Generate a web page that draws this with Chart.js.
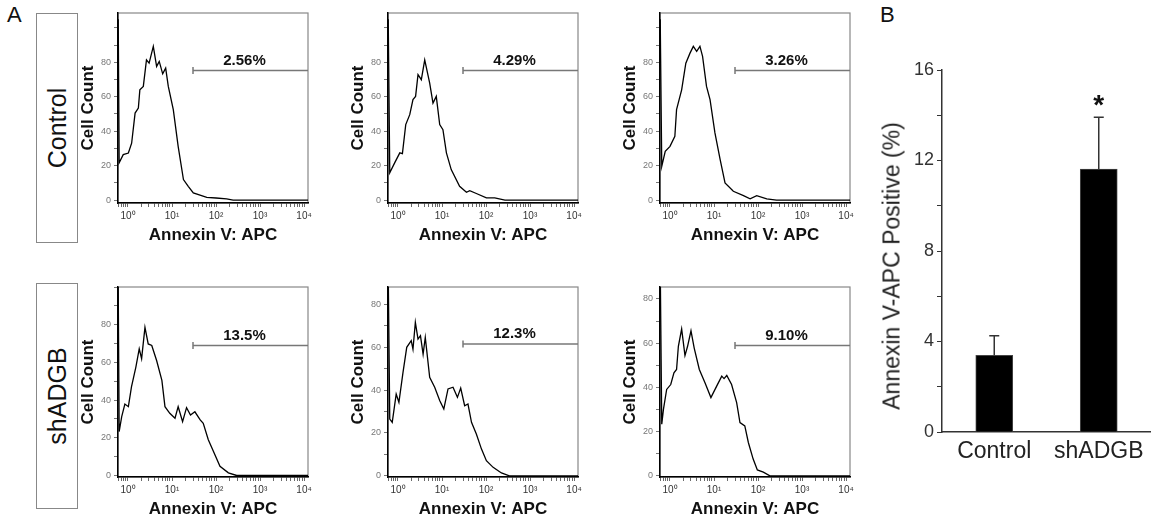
<!DOCTYPE html>
<html lang="en">
<head>
<meta charset="UTF-8">
<title>Annexin V: APC apoptosis</title>
<script src="https://cdn.jsdelivr.net/npm/chart.js"></script>
<style>
  body { margin: 0; background: #fff; font-family: "Liberation Sans", Arial, sans-serif; }
  #wrap { position: relative; width: 1151px; height: 523px; overflow: hidden; }
  canvas { position: absolute; }
  .letter { position: absolute; font-size: 22px; line-height: 1; color: #111; }
  .box { position: absolute; left: 36px; width: 40px; border: 1px solid #888; }
  .box span { position: absolute; left: 50%; top: 50%; transform: translate(-50%, -50%) rotate(-90deg);
              font-size: 25px; white-space: nowrap; color: #111; }
  #ytitle { position: absolute; left: 892px; top: 266px; transform: translate(-50%, -50%) rotate(-90deg);
            font-size: 23px; white-space: nowrap; color: #222; }
</style>
</head>
<body>
<div id="wrap">
  <div class="letter" style="left:7px;top:4px">A</div>
  <div class="letter" style="left:880px;top:4px">B</div>
  <div class="box" style="top:13px;height:228px"><span>Control</span></div>
  <div class="box" style="top:283px;height:224px"><span>shADGB</span></div>

  <canvas id="c1" width="238" height="246" style="left:78px;top:0"></canvas>
  <canvas id="c2" width="238" height="246" style="left:348px;top:0"></canvas>
  <canvas id="c3" width="238" height="246" style="left:620px;top:0"></canvas>
  <canvas id="s1" width="238" height="246" style="left:78px;top:274px"></canvas>
  <canvas id="s2" width="238" height="246" style="left:348px;top:274px"></canvas>
  <canvas id="s3" width="238" height="246" style="left:620px;top:274px"></canvas>

  <canvas id="bars" width="291" height="523" style="left:860px;top:0"></canvas>
  <div id="ytitle">Annexin V-APC Positive (%)</div>
</div>

<script>
  // ---- histogram data (Annexin V: APC intensity vs cell count) ----
  const ctrl1X = [0.6, 0.63, 0.78, 1.02, 1.21, 1.45, 1.72, 1.86, 2.23, 2.63, 3.02, 3.76, 4.47, 5.13, 6.14, 7.18, 8.24, 10.7, 13.8, 18.2, 23.4, 30.5, 61.7, 100, 174, 245, 12300];
  const ctrl1Y = [105, 21.7, 26.4, 27.3, 33, 50.5, 53.4, 64, 66, 81.4, 79.5, 89.2, 77.6, 80.5, 73.3, 76.6, 66, 52.5, 31.2, 11.9, 8, 4.2, 1.6, 1.2, 0.7, 0, 0];

  const ctrl2X = [0.6, 0.65, 0.84, 1.1, 1.26, 1.5, 1.85, 2.19, 2.51, 2.85, 3.39, 4.05, 5.25, 6.24, 7.41, 8.87, 10.5, 12.6, 16.2, 25.1, 35.9, 42.7, 60.3, 102, 158, 269, 12300];
  const ctrl2Y = [105, 15.8, 21.6, 27.4, 27, 43.8, 49.6, 58.3, 60.2, 72.8, 69.9, 81.4, 67.9, 56.3, 60.2, 43.8, 40.9, 27.4, 17.7, 8, 4.5, 5.5, 3.8, 1.3, 1.3, 0, 0];

  const ctrl3X = [0.6, 0.65, 0.78, 1, 1.29, 1.41, 1.84, 2.29, 2.85, 3.39, 4.04, 4.79, 5.5, 6.76, 8.13, 10.5, 13.8, 17.8, 27.5, 46.8, 66.1, 93.3, 158, 263, 12300];
  const ctrl3Y = [105, 19.6, 28.3, 31.2, 37, 52.5, 64, 79.5, 85.3, 89.2, 86.3, 89.2, 83.4, 66, 58.3, 39, 23.5, 10, 5.1, 2.6, 0.7, 2.6, 0.7, 0, 0];

  const sh1X = [0.6, 0.63, 0.72, 0.85, 1.02, 1.2, 1.51, 1.8, 2.04, 2.43, 2.88, 3.47, 4.47, 5.89, 6.92, 8.91, 11.7, 13.8, 17.4, 21.4, 26.3, 33.1, 43.7, 51.3, 66.8, 87.1, 123, 191, 295, 12300];
  const sh1Y = [100, 23.3, 31.2, 37.9, 36.5, 47, 57.5, 67.2, 62, 78.6, 69.8, 69, 61, 50.5, 36.5, 33, 30.4, 36.5, 28.6, 36, 32.1, 33.8, 29.5, 27.7, 19, 12.8, 4.9, 1.4, 0, 0];

  const sh2X = [0.6, 0.65, 0.74, 0.91, 1.05, 1.3, 1.58, 2.0, 2.19, 2.48, 2.85, 3.24, 3.72, 4.17, 5.25, 6.82, 8.91, 11, 13.7, 17.8, 22.4, 26.6, 32.7, 38.9, 46.8, 60.3, 78.5, 102, 145, 224, 339, 12300];
  const sh2Y = [95, 26.5, 25, 38.1, 34.3, 48.2, 59.9, 63, 59, 71.5, 63.7, 65.3, 56.7, 64.5, 45.9, 41.3, 35, 31.2, 40.5, 41.3, 36.6, 40.9, 32.7, 33.5, 25, 19.5, 12.6, 7.1, 4, 1.4, 0, 0];

  const sh3X = [0.6, 0.65, 0.71, 0.84, 1.04, 1.23, 1.41, 1.55, 1.84, 2.19, 2.51, 3.0, 3.55, 4.64, 6.24, 8.51, 11.5, 15, 16.9, 19.5, 25.1, 32.7, 38.9, 50.1, 60.3, 77.6, 96.6, 132, 186, 12300];
  const sh3Y = [95, 23.4, 30.1, 39.1, 41.3, 46.6, 48.1, 58.6, 66.4, 54.4, 58.6, 65.6, 57.8, 48.1, 42.1, 35.4, 40.6, 45.1, 44, 45.4, 41.3, 33.1, 24.1, 22.6, 15.1, 7.6, 2.7, 1.7, 0, 0];

  // gate (marker) start, level and percentage for each panel
  const gateStart = 30;
  const gateLevels = [75.2, 75.2, 75.2, 69, 61.4, 59];
  const gateTexts = ['2.56%', '4.29%', '3.26%', '13.5%', '12.3%', '9.10%'];
  const yMaxes = [108.6, 108.6, 108.6, 100, 88, 85.4];
  const yMins = [-1.7, -1.7, -1.7, -0.8, -0.5, -0.5];

  const X_MIN = 0.593, X_MAX = 12300;
  const decades = [1, 10, 100, 1000, 10000];
  const sup = ['\u2070', '\u00B9', '\u00B2', '\u00B3', '\u2074'];

  // ---- bar chart data ----
  const barLabels = ['Control', 'shADGB'];
  const barMeans = [3.39, 11.62];
  const barErrUp = [4.25, 13.91];
  const barMarks = ['', '*'];

  const FONT = '"Liberation Sans", Arial, sans-serif';
  Chart.defaults.font.family = FONT;

  const panelDecor = {
    id: 'panelDecor',
    beforeDraw(chart) {
      const a = chart.chartArea, ctx = chart.ctx;
      ctx.save();
      ctx.strokeStyle = '#888';
      ctx.lineWidth = 1.2;
      ctx.strokeRect(a.left, a.top, a.right - a.left, a.bottom - a.top);
      ctx.restore();
    },
    afterDatasetsDraw(chart, args, opts) {
      const ctx = chart.ctx;
      const x0 = chart.scales.x.getPixelForValue(gateStart);
      const x1 = chart.chartArea.right;
      const y = chart.scales.y.getPixelForValue(opts.level);
      ctx.save();
      ctx.font = 'bold 15px ' + FONT;
      ctx.fillStyle = '#111';
      ctx.textAlign = 'center';
      ctx.textBaseline = 'middle';
      ctx.fillText(opts.text, (x0 + x1) / 2 - 6, y - 10);
      ctx.restore();
    }
  };

  function decadeLabel(v) {
    const i = decades.indexOf(v);
    return i >= 0 ? '10' + sup[i] : '';
  }

  function makeHist(id, xs, ys, k) {
    const pts = xs.map((x, i) => ({ x: x, y: ys[i] }));
    new Chart(document.getElementById(id), {
      type: 'line',
      data: {
        datasets: [
          { data: pts, borderColor: '#000', borderWidth: 1.3, pointRadius: 0, tension: 0 },
          { data: [{ x: gateStart, y: gateLevels[k] }, { x: X_MAX, y: gateLevels[k] }],
            borderColor: '#777', borderWidth: 1.5, pointStyle: 'line', rotation: 90,
            pointRadius: [3.5, 0], pointBorderColor: '#777', pointBorderWidth: 1.5 }
        ]
      },
      options: {
        responsive: false,
        animation: false,
        layout: { padding: { top: 13, right: 8, left: 0, bottom: 0 } },
        plugins: {
          legend: { display: false },
          tooltip: { enabled: false },
          panelDecor: { level: gateLevels[k], text: gateTexts[k] }
        },
        scales: {
          x: {
            type: 'logarithmic', min: X_MIN, max: X_MAX,
            afterBuildTicks: s => {
              const t = [];
              [0.1, 1, 10, 100, 1000].forEach(d => {
                for (let m = 1; m < 10; m++) {
                  const v = Math.round(m * d * 10) / 10;
                  if (v >= 0.6) t.push({ value: v, major: m === 1 });
                }
              });
              t.push({ value: 10000, major: true });
              s.ticks = t;
            },
            grid: { drawOnChartArea: false, tickLength: 4, color: '#444', tickWidth: 0.8 },
            border: { color: '#000', width: 1.5 },
            ticks: { autoSkip: false, maxRotation: 0, padding: 3, color: '#333', font: { size: 10 },
                     callback: v => decadeLabel(v) },
            title: { display: true, text: 'Annexin V: APC', color: '#111', padding: 0,
                     font: { size: 17, weight: 'bold' } },
            afterFit: s => { s.height = 43; }
          },
          y: {
            min: yMins[k], max: yMaxes[k],
            ticks: { stepSize: 10, includeBounds: false, padding: 3, color: '#777', font: { size: 9 },
                     callback: v => (v % 20 === 0 && v <= 80) ? v : '' },
            grid: { drawOnChartArea: false, tickLength: 4, color: '#555', tickWidth: 0.8 },
            border: { color: '#000', width: 1.5 },
            title: { display: true, text: 'Cell Count', color: '#111', padding: 0,
                     font: { size: 17, weight: 'bold' } },
            afterFit: s => { s.width = 40; }
          }
        }
      },
      plugins: [panelDecor]
    });
  }

  makeHist('c1', ctrl1X, ctrl1Y, 0);
  makeHist('c2', ctrl2X, ctrl2Y, 1);
  makeHist('c3', ctrl3X, ctrl3Y, 2);
  makeHist('s1', sh1X, sh1Y, 3);
  makeHist('s2', sh2X, sh2Y, 4);
  makeHist('s3', sh3X, sh3Y, 5);

  // error bars + significance star
  const errorBars = {
    id: 'errorBars',
    afterDatasetsDraw(chart) {
      const ctx = chart.ctx, y = chart.scales.y;
      const meta = chart.getDatasetMeta(0);
      ctx.save();
      ctx.strokeStyle = '#333';
      ctx.lineWidth = 1.5;
      meta.data.forEach((bar, i) => {
        const top = y.getPixelForValue(barMeans[i]);
        const up = y.getPixelForValue(barErrUp[i]);
        ctx.beginPath();
        ctx.moveTo(bar.x, top);
        ctx.lineTo(bar.x, up);
        ctx.moveTo(bar.x - 5, up);
        ctx.lineTo(bar.x + 5, up);
        ctx.stroke();
        if (barMarks[i]) {
          ctx.fillStyle = '#111';
          ctx.font = 'bold 28px ' + FONT;
          ctx.textAlign = 'center';
          ctx.textBaseline = 'alphabetic';
          ctx.fillText(barMarks[i], bar.x, up - 3);
        }
      });
      ctx.restore();
    }
  };

  new Chart(document.getElementById('bars'), {
    type: 'bar',
    data: {
      labels: barLabels,
      datasets: [{ data: barMeans, backgroundColor: '#000', borderColor: '#444', borderWidth: 1, barThickness: 37 }]
    },
    options: {
      responsive: false,
      animation: false,
      layout: { padding: { top: 70, right: 0, left: 0, bottom: 0 } },
      plugins: { legend: { display: false }, tooltip: { enabled: false } },
      scales: {
        x: {
          grid: { display: false, drawTicks: false },
          border: { color: '#333', width: 1.5 },
          ticks: { padding: 6, color: '#222', font: { size: 23 } },
          afterFit: s => { s.height = 91; }
        },
        y: {
          min: 0, max: 16,
          ticks: { stepSize: 2, padding: 3, color: '#333', font: { size: 18 },
                   callback: v => v % 4 === 0 ? v : '' },
          grid: { drawOnChartArea: false, tickLength: 5, color: '#333' },
          border: { color: '#333', width: 1.5 },
          afterFit: s => { s.width = 82; }
        }
      }
    },
    plugins: [errorBars]
  });
</script>
</body>
</html>
